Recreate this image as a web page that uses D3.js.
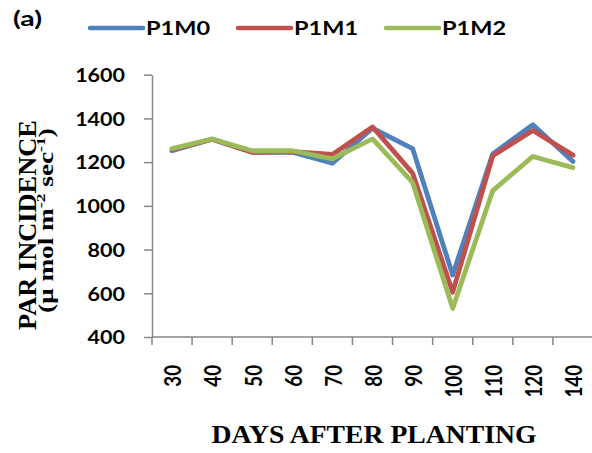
<!DOCTYPE html>
<html>
<head>
<meta charset="utf-8">
<script src="https://cdn.jsdelivr.net/npm/d3@7"></script>
<style>
  html, body { margin: 0; padding: 0; background: #fff; }
  svg { display: block; }
</style>
</head>
<body>
<svg id="chart" width="592" height="453"></svg>
<script>
// Days after planting
const days = ["30", "40", "50", "60", "70", "80", "90", "100", "110", "120", "140"];
// PAR incidence (µ mol m-2 sec-1) per treatment
const p1m0 = [1252, 1305, 1245, 1245, 1195, 1355, 1262, 684, 1238, 1371, 1203];
const p1m1 = [1257, 1305, 1245, 1248, 1235, 1361, 1150, 605, 1229, 1345, 1232];
const p1m2 = [1262, 1306, 1252, 1252, 1215, 1306, 1107, 531, 1070, 1226, 1175];
const yTicks = [400, 600, 800, 1000, 1200, 1400, 1600];

const seriesNames = ["P1M0", "P1M1", "P1M2"];
const seriesValues = [p1m0, p1m1, p1m2];
const colors = ["#4F81BD", "#C0504D", "#9BBB59"];

const svg = d3.select("#chart");
const plot = { left: 152, right: 593, top: 74.7, bottom: 337 };
const axisColor = "#868686";
const sans = "Lato, 'Open Sans', sans-serif";
const serif = "'Liberation Serif', 'Times New Roman', serif";
const labelSize = 18.7;   // sans-serif labels
const widen = 1.15;       // horizontal widening of the sans labels

// Stretch a text element along its reading direction so it spans `target` px.
function fitLength(sel, target, base) {
  const len = sel.node().getComputedTextLength();
  sel.attr("transform", `${base} scale(${target / len},1)`);
}

const x = d3.scaleBand().domain(days).range([plot.left, plot.right]).padding(0);
const y = d3.scaleLinear().domain([400, 1600]).range([plot.bottom, plot.top]);

// Y axis
const yAxis = svg.append("g")
  .attr("transform", `translate(${plot.left},0)`)
  .call(d3.axisLeft(y).tickValues(yTicks).tickFormat(d3.format("d"))
    .tickSize(8).tickSizeOuter(0));
yAxis.select(".domain").attr("stroke", axisColor).attr("stroke-width", 1.5);
yAxis.selectAll(".tick line").attr("stroke", axisColor).attr("stroke-width", 1.5);
yAxis.selectAll(".tick text")
  .attr("x", 0).attr("dy", "0.36em")
  .attr("transform", `translate(${125 - plot.left},0) scale(${widen},1)`)
  .attr("fill", "#000").attr("text-anchor", "end")
  .style("font-family", sans).style("font-weight", "bold")
  .style("font-size", labelSize + "px");

// X axis: ticks sit on the category boundaries
const xAxis = svg.append("g").attr("transform", `translate(0,${plot.bottom})`);
xAxis.append("line")
  .attr("x1", plot.left).attr("x2", plot.right)
  .attr("stroke", axisColor).attr("stroke-width", 1.5);
const boundaries = days.map(d => x(d)).concat([x(days[days.length - 1]) + x.bandwidth()]);
xAxis.selectAll(".bt").data(boundaries).join("line")
  .attr("class", "bt")
  .attr("x1", d => d).attr("x2", d => d)
  .attr("y1", 0).attr("y2", 8)
  .attr("stroke", axisColor).attr("stroke-width", 1.5);
xAxis.selectAll(".xl").data(days).join("text")
  .attr("class", "xl")
  .attr("transform", d => `translate(${x(d) + x.bandwidth() / 2 + 9.3},28) scale(1.25,1) rotate(-90)`)
  .attr("text-anchor", "end")
  .style("font-family", sans).style("font-weight", "bold")
  .style("font-size", labelSize + "px")
  .text(d => d);

// Lines
const line = d3.line()
  .x((d, i) => x(days[i]) + x.bandwidth() / 2)
  .y(d => y(d));
svg.selectAll(".series").data(seriesValues).join("path")
  .attr("class", "series")
  .attr("d", d => line(d))
  .attr("fill", "none")
  .attr("stroke", (d, i) => colors[i])
  .attr("stroke-width", 4.8)
  .attr("stroke-linejoin", "round")
  .attr("stroke-linecap", "round");

// Axis titles
const xt = svg.append("text")
  .attr("text-anchor", "middle")
  .style("font-family", serif).style("font-weight", "bold").style("font-size", "25px")
  .text("DAYS AFTER PLANTING");
fitLength(xt, 325, "translate(374,443)");

const yt1 = svg.append("text")
  .attr("text-anchor", "middle")
  .style("font-family", serif).style("font-weight", "bold").style("font-size", "26px")
  .text("PAR INCIDENCE");
fitLength(yt1, 210, "translate(35.5,225) rotate(-90)");

const yt2 = svg.append("text")
  .attr("text-anchor", "middle")
  .style("font-family", serif).style("font-weight", "bold").style("font-size", "20px");
yt2.append("tspan").text("(μ mol m");
yt2.append("tspan").attr("dy", -8).style("font-size", "13px").text("-2");
yt2.append("tspan").attr("dy", 8).text(" sec");
yt2.append("tspan").attr("dy", -8).style("font-size", "13px").text("-1");
yt2.append("tspan").attr("dy", 8).text(")");
fitLength(yt2, 185, "translate(53,220.5) rotate(-90)");

// Panel label
const pl = svg.append("text")
  .style("font-family", sans).style("font-weight", "bold").style("font-size", "20px")
  .text("(a)");
fitLength(pl, 29, "translate(13,26)");

// Legend
const legendX = [90, 238, 386];
const lg = svg.selectAll(".lg").data(seriesNames).join("g")
  .attr("class", "lg")
  .attr("transform", (d, i) => `translate(${legendX[i]},28)`);
lg.append("line")
  .attr("x1", 0).attr("x2", 53)
  .attr("stroke", (d, i) => colors[i])
  .attr("stroke-width", 4.5).attr("stroke-linecap", "round");
lg.append("text")
  .style("font-family", sans).style("font-weight", "bold")
  .style("font-size", labelSize + "px")
  .text(d => d)
  .each(function () { fitLength(d3.select(this), 64, "translate(56,6.7)"); });
</script>
</body>
</html>
